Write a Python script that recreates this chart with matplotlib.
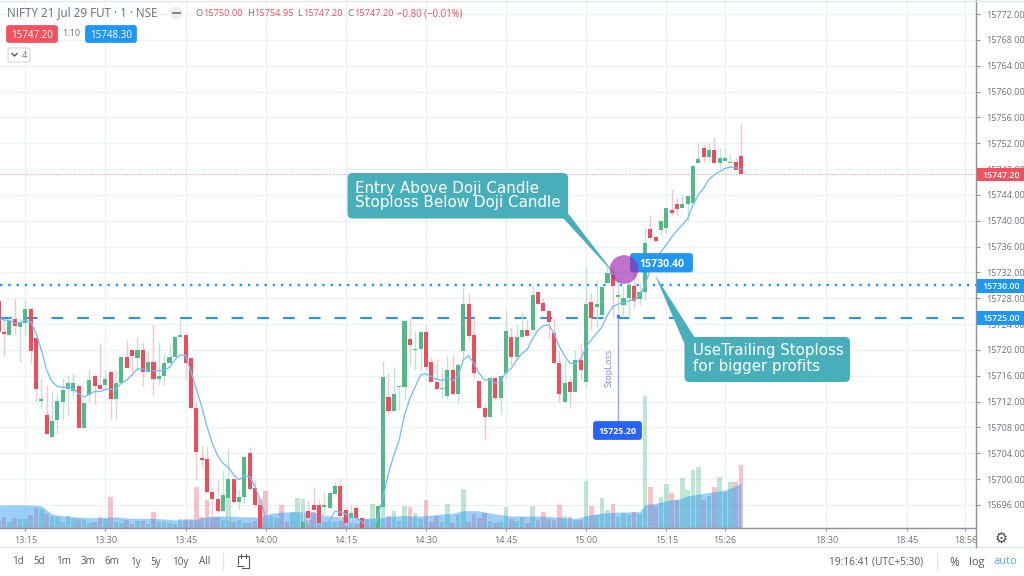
"""plot.py - NIFTY 1 minute candle chart with entry / stoploss notes."""
import numpy as np
import matplotlib
matplotlib.use("Agg")
import matplotlib.pyplot as plt
from matplotlib.patches import FancyBboxPatch, Polygon, Circle, Rectangle

plt.rcParams["font.family"] = ["Open Sans", "DejaVu Sans"]

# minutes after 13:15
first_minute = -5

open_px = [
    15727.6, 15722.85, 15722.3, 15724.75, 15723.5, 15724.1, 15726.3, 15721.8, 15712.1, 15709.95,
    15706.45, 15709.15, 15712.0, 15713.9, 15713.7, 15714.35, 15707.95, 15713.05, 15716.0, 15714.5,
    15714.5, 15716.65, 15712.4, 15714.95, 15718.85, 15719.95, 15718.8, 15719.95, 15716.65, 15718.2,
    15715.45, 15716.0, 15717.95, 15718.85, 15722.0, 15722.3, 15718.7, 15711.0, 15703.25, 15703.15,
    15697.95, 15696.9, 15695.0, 15697.05, 15700.0, 15696.4, 15697.3, 15704.0, 15698.6, 15696.0,
    15690.5, 15688.0, 15688.5, 15690.0, 15689.0, 15688.5, 15690.0,
    15691.0, 15695.05, 15696.0, 15696.0, 15695.75, 15695.5, 15697.7, 15699.0, 15695.25, 15694.0,
    15695.45, 15694.0, 15691.0, 15688.5, 15691.0, 15695.75,
    15712.75, 15710.6, 15714.25, 15714.3, 15721.65, 15720.0, 15720.1, 15722.85, 15718.15, 15715.05,
    15713.95, 15712.9, 15716.9, 15713.1, 15719.8, 15727.05, 15722.3, 15715.2, 15711.0, 15709.65,
    15715.6, 15712.55, 15716.45, 15722.0, 15718.85, 15721.95, 15723.05, 15723.05, 15728.9, 15727.2,
    15726.05, 15722.55, 15717.9, 15712.0, 15715.1, 15713.5, 15718.45, 15715.0, 15727.4, 15726.6,
    15725.45, 15730.4, 15731.6, 15728.25, 15727.0, 15728.1, 15729.95, 15727.9, 15728.95, 15738.7,
    15737.45, 15738.6, 15738.95, 15741.7, 15742.6, 15741.95, 15742.55, 15742.7, 15748.9, 15751.25,
    15749.85, 15750.95, 15748.9, 15749.3, 15748.9, 15749.15, 15750.0,
]
high_px = [
    15727.9, 15724.9, 15724.9, 15728.0, 15724.9, 15727.75, 15726.45, 15721.8, 15715.6, 15714.35,
    15713.65, 15713.3, 15715.6, 15716.15, 15716.4, 15714.35, 15711.75, 15716.9, 15716.15, 15721.05,
    15716.9, 15716.9, 15716.9, 15718.85, 15721.55, 15719.95, 15722.05, 15721.05, 15719.75, 15723.8,
    15721.3, 15719.5, 15720.8, 15722.3, 15724.75, 15722.3, 15718.7, 15712.0, 15705.05, 15705.05,
    15698.85, 15699.9, 15701.4, 15704.6, 15700.0, 15698.3, 15703.75, 15704.95, 15699.9, 15696.0,
    15691.0, 15689.5, 15690.0, 15690.5, 15689.5, 15690.0, 15691.0,
    15696.8, 15696.8, 15698.85, 15696.8, 15698.05, 15698.05, 15699.6, 15700.0, 15695.75, 15696.0,
    15696.0, 15694.2, 15691.5, 15690.0, 15696.0, 15718.3,
    15716.35, 15717.4, 15714.4, 15724.45, 15724.9, 15723.0, 15722.85, 15723.85, 15718.95, 15718.6,
    15717.4, 15719.05, 15719.2, 15717.9, 15729.8, 15728.85, 15724.9, 15715.2, 15711.7, 15715.6,
    15715.6, 15716.0, 15726.25, 15723.6, 15723.85, 15725.9, 15724.6, 15730.0, 15728.9, 15728.0,
    15726.05, 15724.9, 15720.0, 15718.45, 15715.95, 15720.0, 15721.0, 15733.0, 15728.85, 15730.85,
    15729.8, 15733.05, 15733.15, 15731.35, 15729.8, 15730.85, 15732.15, 15730.3, 15738.85, 15740.9,
    15737.45, 15739.9, 15741.95, 15744.9, 15743.5, 15744.0, 15743.85, 15748.4, 15752.0, 15751.9,
    15752.0, 15752.9, 15751.2, 15751.2, 15750.3, 15749.9, 15754.95,
]
low_px = [
    15722.6, 15719.0, 15722.3, 15722.3, 15718.1, 15722.2, 15717.95, 15712.1, 15711.0, 15707.0,
    15706.45, 15707.0, 15709.15, 15709.95, 15713.05, 15707.95, 15707.95, 15711.75, 15711.4, 15713.8,
    15713.8, 15709.3, 15709.3, 15714.95, 15717.15, 15715.9, 15716.9, 15714.35, 15716.65, 15713.05,
    15714.6, 15714.6, 15717.95, 15718.85, 15722.0, 15715.35, 15711.0, 15699.9, 15701.7, 15697.8,
    15694.2, 15694.8, 15695.0, 15693.7, 15696.25, 15695.25, 15696.25, 15698.3, 15695.75, 15690.0,
    15688.0, 15687.5, 15688.0, 15688.5, 15687.5, 15688.0, 15689.5,
    15690.0, 15693.15, 15695.2, 15693.15, 15694.2, 15695.5, 15697.7, 15693.7, 15692.9, 15693.15,
    15694.0, 15690.0, 15688.5, 15687.5, 15690.0, 15694.2,
    15710.05, 15710.6, 15710.7, 15712.2, 15717.65, 15716.9, 15716.9, 15716.9, 15715.0, 15713.9,
    15712.5, 15712.5, 15713.0, 15711.7, 15718.4, 15721.4, 15715.6, 15710.95, 15706.05, 15709.65,
    15712.2, 15710.15, 15715.35, 15717.65, 15718.85, 15721.95, 15722.2, 15723.05, 15727.05, 15726.0,
    15721.65, 15717.9, 15712.0, 15712.0, 15710.95, 15713.5, 15715.35, 15714.1, 15723.1, 15723.6,
    15725.15, 15730.4, 15725.15, 15725.15, 15725.15, 15725.15, 15726.45, 15726.95, 15727.75, 15737.4,
    15736.8, 15737.8, 15738.05, 15740.9, 15740.9, 15741.95, 15740.15, 15742.7, 15748.9, 15748.9,
    15749.15, 15748.9, 15748.1, 15749.3, 15748.9, 15747.85, 15747.2,
]
close_px = [
    15722.85, 15722.5, 15724.65, 15723.7, 15724.1, 15726.35, 15719.85, 15714.0, 15712.4, 15707.0,
    15709.05, 15712.1, 15713.8, 15714.85, 15714.85, 15707.95, 15711.75, 15715.35, 15714.45, 15713.9,
    15715.45, 15712.4, 15714.95, 15718.85, 15717.15, 15719.0, 15719.95, 15716.65, 15718.2, 15715.45,
    15716.0, 15717.95, 15718.85, 15722.05, 15722.3, 15717.95, 15711.0, 15704.25, 15703.0, 15697.95,
    15696.9, 15695.0, 15697.55, 15700.0, 15696.4, 15697.2, 15703.4, 15698.5, 15696.0, 15691.0,
    15689.0, 15689.2, 15689.8, 15688.8, 15688.0, 15689.8, 15690.8,
    15693.4, 15694.05, 15695.2, 15693.25, 15696.0, 15697.8, 15699.0, 15694.3, 15693.15, 15694.8,
    15694.0, 15691.0, 15689.0, 15689.8, 15695.85, 15715.8,
    15710.6, 15713.25, 15714.4, 15724.45, 15720.75, 15720.2, 15722.85, 15717.4, 15715.0, 15713.9,
    15714.1, 15716.9, 15713.1, 15717.7, 15727.05, 15722.2, 15716.45, 15710.95, 15709.65, 15715.6,
    15712.55, 15716.0, 15722.95, 15718.85, 15722.0, 15723.05, 15722.2, 15728.5, 15727.05, 15726.0,
    15724.35, 15717.9, 15713.25, 15714.9, 15713.5, 15718.45, 15716.9, 15727.05, 15725.0, 15727.05,
    15729.8, 15731.9, 15729.95, 15728.45, 15728.0, 15730.05, 15727.5, 15728.95, 15736.5, 15737.4,
    15736.9, 15739.9, 15741.95, 15741.2, 15741.85, 15742.6, 15743.85, 15748.4, 15749.5, 15749.85,
    15750.95, 15748.9, 15749.65, 15749.65, 15749.05, 15747.85, 15747.2,
]
ma_px = [
    15724.9, 15724.65, 15724.55, 15724.1, 15724.25, 15724.55, 15724.4, 15722.6, 15720.0, 15716.9,
    15715.1, 15714.35, 15714.2, 15714.2, 15714.0, 15713.2, 15712.7, 15713.2, 15713.55, 15713.55,
    15713.9, 15713.9, 15714.0, 15714.85, 15715.35, 15716.15, 15717.05, 15717.05, 15716.8, 15716.8,
    15716.75, 15716.9, 15717.3, 15718.45, 15719.25, 15719.15, 15716.65, 15714.05, 15711.25, 15708.15,
    15705.55, 15703.65, 15702.45, 15701.85, 15700.65, 15699.9, 15700.55, 15700.4, 15698.85, 15696.7,
    15694.2, 15691.9, 15690.0, 15689.0, 15688.5, 15688.5, 15689.0,
    15690.0, 15690.5, 15691.0, 15691.8, 15692.45, 15693.7, 15695.0, 15694.9, 15694.6, 15694.2,
    15693.95, 15693.45, 15692.35, 15691.2, 15694.3, 15697.25,
    15700.9, 15703.7, 15706.05, 15709.9, 15712.5, 15714.3, 15716.1, 15716.35, 15715.85, 15715.5,
    15715.25, 15715.6, 15715.25, 15715.85, 15718.45, 15719.1, 15717.9, 15716.35, 15715.35, 15715.35,
    15714.9, 15715.05, 15716.6, 15717.15, 15718.45, 15719.45, 15720.1, 15721.8, 15723.05, 15723.75,
    15723.85, 15722.55, 15720.5, 15719.05, 15717.9, 15717.9, 15718.6, 15720.45, 15721.6, 15722.6,
    15723.6, 15725.4, 15726.7, 15727.1, 15727.3, 15727.6, 15727.75, 15728.5, 15729.95, 15732.4,
    15733.95, 15735.2, 15736.25, 15737.45, 15738.45, 15739.35, 15740.3, 15742.45, 15744.0, 15745.05,
    15746.4, 15747.1, 15747.6, 15748.1, 15748.3, 15748.2, 15748.0,
]
volume = [
    8, 11.3, 6.3, 10.3, 9, 9, 13, 19.7, 18.7, 14,
    12.3, 11.3, 6.3, 12, 9.7, 8.7, 8, 5.3, 6.3, 10.7,
    8.7, 31.3, 6.3, 5.3, 8, 4, 7.3, 7.3, 3.7, 16.3,
    6.3, 5.7, 5.3, 4, 8.7, 8.7, 8.7, 40.7, 11.3, 28,
    11.3, 11.3, 8, 29.7, 6.3, 8, 5.3, 5.3, 7.3, 28.7,
    37, 12.3, 9.7, 23, 6.3, 16.3, 29.7,
    28.7, 8, 16.3, 14, 6.3, 5.7, 5.7, 7.3, 18, 6.3,
    3.7, 4.7, 9.3, 24, 22, 21.3,
    12, 17, 7.3, 22, 20.7, 14.7, 9, 28, 6.3, 12.3,
    6.3, 24, 4.7, 13, 39, 6.3, 14, 9.7, 15.3, 7.3,
    4.7, 5.7, 20.7, 9, 7.3, 10.7, 4.7, 22, 8, 16.3,
    9, 8, 23, 12, 10.7, 8, 8, 47, 22.3, 13,
    29.7, 18, 24, 11.3, 15.3, 13, 16.3, 14, 132, 40.7,
    22, 30.7, 44, 35.3, 28, 49.7, 38, 58, 60.7, 28,
    32.3, 40.7, 51, 36.3, 45.7, 46.3, 63,
]
volume_ma = [
    23, 23, 23, 23.3, 23.3, 23, 23, 22.7, 22.3, 18,
    14, 13, 12.3, 12, 11.3, 11, 10.7, 10.3, 10.3, 10.3,
    10.7, 11.3, 11, 10.7, 10, 9.7, 9.7, 9.7, 9.7, 9.7,
    9.3, 9, 8.7, 8, 8.3, 8.3, 8.7, 8.7, 10, 11.3,
    11.7, 12, 12, 12, 11.7, 11.3, 11.3, 11.3, 11, 11,
    12.7, 14.7, 15.3, 16, 16, 16.3, 16.3,
    16.3, 16, 16, 14.7, 13, 12, 11.3, 11.3, 11.3, 10.7,
    10, 10, 9.7, 10, 10, 10.7,
    11.7, 12, 12.3, 12.3, 12, 12, 12, 12.7, 13, 13.3,
    14, 14.3, 14.7, 16, 17.3, 17.3, 17.3, 17, 16, 15,
    14, 13.3, 12.7, 12, 12, 12, 12, 12, 12, 12,
    11.7, 11, 10.7, 10.3, 10, 9.7, 10.7, 12.3, 13.3, 14,
    15, 15.3, 15.7, 16, 16, 16, 16.3, 16.3, 23, 24,
    24.7, 26, 27.3, 28, 28.7, 30, 32.3, 33, 34, 34.7,
    35.5, 36.5, 37, 38, 40, 42, 44.7,
]

price_ticks = list(range(15696, 15773, 4))
time_ticks = [0, 15, 30, 45, 60, 75, 90, 105, 120, 131, 150, 165, 176]
time_labels = ["13:15", "13:30", "13:45", "14:00", "14:15", "14:30", "14:45", "15:00",
               "15:15", "15:26", "18:30", "18:45", "18:56"]

RED = "#EE4D5E"
GREEN = "#53B987"
RED_SOFT = "#F9C6CC"
GREEN_SOFT = "#BFE5D2"
BLUE = "#2196F3"
TEAL = "#47AEBA"
GRID = "#EDF2F7"
AXIS = "#8F929A"
GREY = "#6F7280"
YMIN, YMAX = 15692.43, 15774.17

mins = first_minute + np.arange(len(open_px))
o, h, l, c = map(np.array, (open_px, high_px, low_px, close_px))
up = c >= o

fig = plt.figure(figsize=(10.24, 5.76), dpi=100, facecolor="white")
ax = fig.add_axes([0, 48 / 576, 976 / 1024, 528 / 576])
ax_vol = ax.twinx()

# volume pane sits under the price pane, its y axis runs in pane pixels
ax.set_zorder(2)
ax_vol.set_zorder(1)
ax.patch.set_visible(False)
ax_vol.patch.set_facecolor("white")
ax_vol.patch.set_visible(True)
ax_vol.set_ylim(0, 528)
ax_vol.set_yticks([])
for s in ax_vol.spines.values():
    s.set_visible(False)

ax.set_xlim(-4.74, 178.0)
ax.set_ylim(YMIN, YMAX)

grid_y = [(p - YMIN) / (YMAX - YMIN) * 528 for p in price_ticks]
ax_vol.hlines(grid_y, -10, 180, color=GRID, lw=1, zorder=0)
ax_vol.vlines(time_ticks, 0, 528, color=GRID, lw=1, zorder=0)
ax_vol.bar(mins[up], np.array(volume)[up], width=0.86, color=GREEN, alpha=0.36, lw=0, zorder=1)
ax_vol.bar(mins[~up], np.array(volume)[~up], width=0.86, color=RED, alpha=0.34, lw=0, zorder=1)
ax_vol.fill_between(mins, 0, volume_ma, color=BLUE, alpha=0.45, lw=0, zorder=2)

# price lines
ax.axhline(15747.20, color=RED, lw=0.7, alpha=0.65, ls=(0, (1, 1.6)), zorder=1)
ax.axhline(15730.00, color=BLUE, lw=1.7, ls=(0, (1, 2.5)), zorder=1.5)
ax.axhline(15725.00, color=BLUE, lw=1.5, ls=(0, (5.65, 6.7)), zorder=1.5)

# candles
ax.vlines(mins[up], l[up], h[up], color=GREEN_SOFT, lw=1.0, zorder=2)
ax.vlines(mins[~up], l[~up], h[~up], color=RED_SOFT, lw=1.0, zorder=2)
body = np.maximum(np.abs(c - o), 0.16)
ax.bar(mins[up], body[up], bottom=np.minimum(o, c)[up], width=0.76, color=GREEN, lw=0, zorder=3)
ax.bar(mins[~up], body[~up], bottom=np.minimum(o, c)[~up], width=0.76, color=RED, lw=0, zorder=3)
ax.plot(mins, ma_px, color="#76BCF6", lw=0.95, zorder=4)

ax.yaxis.tick_right()
ax.set_yticks(price_ticks)
ax.set_yticklabels([f"{p:.2f}" for p in price_ticks])
ax.set_xticks(time_ticks)
ax.set_xticklabels(time_labels)
ax.tick_params(axis="y", length=3, width=0.8, color=AXIS, labelcolor=GREY, labelsize=6.5, pad=4)
ax.tick_params(axis="x", length=2.5, width=0.8, color=AXIS, labelcolor=GREY, labelsize=6.5, pad=3)
for side in ("top", "left"):
    ax.spines[side].set_visible(False)
for side in ("right", "bottom"):
    ax.spines[side].set_color(AXIS)
    ax.spines[side].set_linewidth(1.0)

# everything else is placed in screen pixels on a clear overlay
ui = fig.add_axes([0, 0, 1, 1], zorder=5)
ui.set_xlim(0, 1024)
ui.set_ylim(576, 0)
ui.axis("off")


def label_box(x0, y0, x1, y1, color, txt, size=6.6, weight="bold", z=3):
    ui.add_patch(FancyBboxPatch((x0 + 1.5, y0 + 1.5), x1 - x0 - 3, y1 - y0 - 3,
                                boxstyle="round,pad=0,rounding_size=1.5", mutation_aspect=1,
                                fc=color, ec=color, lw=2, zorder=z))
    ui.text((x0 + x1) / 2, (y0 + y1) / 2, txt, color="white", fontsize=size, fontweight=weight,
            ha="center", va="center_baseline", zorder=z + 2)


# bars and separators
ui.plot([0, 1024], [1, 1], color="#E3E6EC", lw=1)
ui.plot([0, 1024], [547, 547], color="#E3E6EC", lw=1)
ui.plot([976, 976], [528, 547], color=AXIS, lw=1.0)

# header
ui.text(7, 13, "NIFTY 21 Jul 29 FUT · 1 · NSE", color="#6A6D78", fontsize=8.4, va="center")
ui.add_patch(Circle((176, 13), 6.5, fc="#EDEEF0", ec="none"))
ui.plot([172.5, 179.5], [13, 13], color="#777A85", lw=1.3)
for x, x_val, letter, value in [(195, 203, "O", "15750.00"), (247, 254, "H", "15754.95"),
                                (297, 303, "L", "15747.20"), (347, 354, "C", "15747.20")]:
    ui.text(x, 14, letter, color=GREY, fontsize=6.7, va="center")
    ui.text(x_val, 14, value, color=RED, fontsize=6.7, va="center")
ui.text(397, 14, "−0.80 (−0.01%)", color=RED, fontsize=6.9, va="center")
label_box(6, 25, 58, 43, "#F0525F", "15747.20", size=7.0, weight="normal")
ui.text(71, 34, "1.10", color=GREY, fontsize=6.5, ha="center", va="center")
label_box(85, 25, 137, 43, BLUE, "15748.30", size=7.0, weight="normal")
ui.add_patch(FancyBboxPatch((8, 48), 22, 14, boxstyle="round,pad=0,rounding_size=1.5",
                            fc="white", ec="#D5D8DE", lw=0.8))
ui.plot([12, 14.5, 17], [53.5, 56, 53.5], color="#555863", lw=1.0)
ui.text(24.5, 55, "4", color=GREY, fontsize=6.5, ha="center", va="center")

# price axis labels
for y0, color, txt in [(167.5, "#F0525F", "15747.20"), (279, BLUE, "15730.00"), (311, BLUE, "15725.00")]:
    ui.add_patch(Rectangle((976.5, y0), 47.5, 13.5, fc=color, ec="none", zorder=3))
    ui.text(1001, y0 + 6.8, txt, color="white", fontsize=6.3, fontweight=600,
            ha="center", va="center_baseline", zorder=4)

# entry callout
ui.add_patch(Polygon([(563, 218), (568.5, 214), (617, 277)], fc=TEAL, ec="none", zorder=2))
ui.add_patch(FancyBboxPatch((350.5, 176), 214.5, 39.5, boxstyle="round,pad=3,rounding_size=5",
                            fc=TEAL, ec="none", zorder=2))
ui.text(355, 188, "Entry Above Doji Candle", color="white", fontsize=10.9,
        family="DejaVu Sans", va="center", zorder=3)
ui.text(355, 203, "Stoploss Below Doji Candle", color="white", fontsize=10.9,
        family="DejaVu Sans", va="center", zorder=3)

# trailing callout
ui.add_patch(Polygon([(655, 275), (685, 345), (695, 338)], fc=TEAL, ec="none", zorder=2))
ui.add_patch(FancyBboxPatch((687.5, 340), 159.5, 39, boxstyle="round,pad=3,rounding_size=5",
                            fc=TEAL, ec="none", zorder=2))
ui.text(693, 351, "UseTrailing Stoploss", color="white", fontsize=10.8,
        family="DejaVu Sans", va="center", zorder=3)
ui.text(693, 366, "for bigger profits", color="white", fontsize=10.8,
        family="DejaVu Sans", va="center", zorder=3)

# entry marker
label_box(630, 253, 693, 272.5, BLUE, "15730.40", size=7.6, z=4)
ui.add_patch(Circle((624, 269.5), 14.3, fc="#9C27B0", alpha=0.65, ec="none", zorder=5))

# stoploss marker
ui.plot([617.7, 617.7], [316, 421], color="#8FA8FF", lw=1.0, zorder=3)
ui.plot([617.7], [316], "s", color="#4A78FF", ms=1.8, zorder=4)
ui.text(609, 368, "StopLoss", color="#6F8FF5", fontsize=6.6, rotation=90,
        ha="center", va="center", zorder=4)
label_box(593, 421, 642, 440, "#2962FF", "15725.20", size=6.4)

# bottom bar
for x, txt in [(18, "1d"), (39, "5d"), (63, "1m"), (88, "3m"), (112, "6m"), (135, "1y"),
               (156, "5y"), (180, "10y"), (205, "All")]:
    ui.text(x, 562, txt, color="#555863", fontsize=7.1, ha="center", va="center")
ui.plot([223, 223], [553, 570], color="#E3E6EC", lw=1)
ui.plot([937, 937], [553, 570], color="#E3E6EC", lw=1)
ui.plot([238, 238, 249, 249], [564, 556, 556, 568], color="#555863", lw=0.8)
ui.plot([242, 249], [568, 568], color="#555863", lw=0.8)
ui.plot([241, 241], [554, 558], color="#555863", lw=0.8)
ui.plot([246, 246], [554, 558], color="#555863", lw=0.8)
ui.plot([237, 243], [566, 566], color="#555863", lw=0.8)
ui.text(876, 562, "19:16:41 (UTC+5:30)", color="#555863", fontsize=7.3, ha="center", va="center")
ui.text(954, 562, "%", color="#555863", fontsize=8.5, ha="center", va="center")
ui.text(977, 562, "log", color="#555863", fontsize=8, ha="center", va="center")
ui.text(1005, 562, "auto", color="#5FA8F5", fontsize=8, ha="center", va="center")
ui.text(1001, 538, "⚙", color="#4A4D57", fontsize=10.5, family="DejaVu Sans", ha="center", va="center")

fig.savefig("out.png", dpi=100, facecolor="white")
plt.close(fig)
